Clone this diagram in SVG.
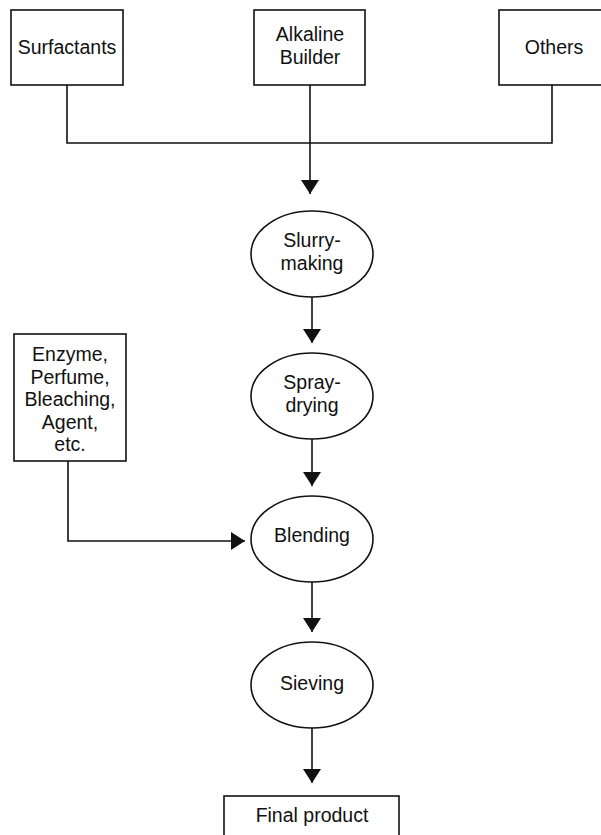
<svg xmlns="http://www.w3.org/2000/svg" width="601" height="835" viewBox="0 0 601 835">
  <style>
    .box { fill: #fff; stroke: #111; stroke-width: 1.6; }
    .step { fill: #fff; stroke: #111; stroke-width: 1.6; }
    .wire { fill: none; stroke: #111; stroke-width: 1.6; }
    .lbl { font-family: "Liberation Sans", Arial, Helvetica, sans-serif; font-size: 19.5px; fill: #111; text-anchor: middle; }
  </style>
  <defs>
    <marker id="head" viewBox="0 0 14 18" refX="14" refY="9" markerWidth="14" markerHeight="18" markerUnits="userSpaceOnUse" orient="auto">
      <path d="M0,0 L14,9 L0,18 Z" fill="#111"/>
    </marker>
  </defs>
  <rect width="601" height="835" fill="#fff"/>

  <!-- connectors -->
  <g id="connectors">
    <polyline class="wire" points="67,85 67,143 552,143 552,85"/>
    <line class="wire" x1="310" y1="85" x2="310" y2="194" marker-end="url(#head)"/>
    <line class="wire" x1="312" y1="297" x2="312" y2="343" marker-end="url(#head)"/>
    <line class="wire" x1="312" y1="439" x2="312" y2="486" marker-end="url(#head)"/>
    <polyline class="wire" points="68,461 68,541 245,541" marker-end="url(#head)"/>
    <line class="wire" x1="312" y1="582" x2="312" y2="632" marker-end="url(#head)"/>
    <line class="wire" x1="312" y1="728" x2="312" y2="783" marker-end="url(#head)"/>
  </g>

  <!-- raw material inputs -->
  <g id="surfactants">
    <rect class="box" x="11" y="10" width="112" height="75"/>
    <text class="lbl" x="67" y="54">Surfactants</text>
  </g>
  <g id="alkaline-builder">
    <rect class="box" x="254" y="10" width="111" height="75"/>
    <text class="lbl" x="310" y="41">Alkaline</text>
    <text class="lbl" x="310" y="64">Builder</text>
  </g>
  <g id="others">
    <rect class="box" x="499" y="10" width="110" height="75"/>
    <text class="lbl" x="554" y="54">Others</text>
  </g>

  <!-- process steps -->
  <g id="slurry-making">
    <ellipse class="step" cx="312" cy="254" rx="61" ry="43"/>
    <text class="lbl" x="312" y="247">Slurry-</text>
    <text class="lbl" x="312" y="270">making</text>
  </g>
  <g id="spray-drying">
    <ellipse class="step" cx="312" cy="396" rx="61" ry="43"/>
    <text class="lbl" x="312" y="389">Spray-</text>
    <text class="lbl" x="312" y="412">drying</text>
  </g>
  <g id="additives">
    <rect class="box" x="14" y="334" width="112" height="127"/>
    <text class="lbl" x="70" y="361">Enzyme,</text>
    <text class="lbl" x="70" y="384">Perfume,</text>
    <text class="lbl" x="70" y="406">Bleaching,</text>
    <text class="lbl" x="70" y="429">Agent,</text>
    <text class="lbl" x="70" y="451">etc.</text>
  </g>
  <g id="blending">
    <ellipse class="step" cx="312" cy="539" rx="61" ry="43"/>
    <text class="lbl" x="312" y="542">Blending</text>
  </g>
  <g id="sieving">
    <ellipse class="step" cx="312" cy="685" rx="61" ry="43"/>
    <text class="lbl" x="312" y="690">Sieving</text>
  </g>
  <g id="final-product">
    <rect class="box" x="224" y="796" width="175" height="50"/>
    <text class="lbl" x="312" y="822">Final product</text>
  </g>
</svg>
